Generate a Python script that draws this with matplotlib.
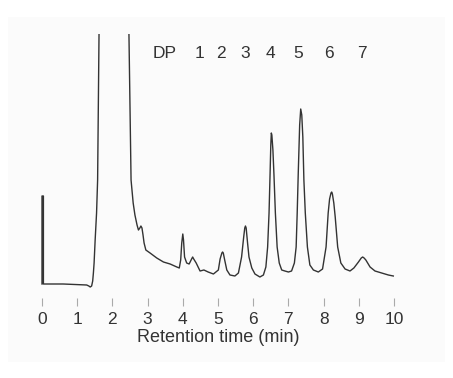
# HPLC chromatogram of oligosaccharides (DP 1-7)

import matplotlib.pyplot as plt
from matplotlib.patches import Rectangle

plt.rcParams['font.family'] = ['Liberation Sans', 'DejaVu Sans']

# retention time (min) and detector signal (arbitrary units, baseline ~0)
time = [0.00, 0.00, 0.04, 0.04, 0.60, 1.27, 1.33, 1.37, 1.41, 1.44, 1.46, 1.48, 1.51, 1.55, 1.58,
        1.62, 2.05,
        2.47, 2.53, 2.59, 2.64, 2.70, 2.74, 2.78, 2.81, 2.84, 2.87, 2.90, 2.95, 3.07, 3.26, 3.45,
        3.64, 3.83, 3.90, 3.94, 3.97, 4.00, 4.02, 4.05, 4.11, 4.18, 4.25, 4.28, 4.31, 4.38, 4.49,
        4.60, 4.72, 4.87, 5.01, 5.06, 5.11, 5.13, 5.15, 5.19, 5.25, 5.34, 5.48, 5.58, 5.67, 5.73,
        5.76, 5.78, 5.80, 5.84, 5.88, 5.96, 6.05, 6.19, 6.29, 6.36, 6.41, 6.45, 6.48, 6.50, 6.515,
        6.53, 6.56, 6.59, 6.63, 6.68, 6.74, 6.81, 6.90, 7.00, 7.09, 7.17, 7.22, 7.25, 7.28, 7.32,
        7.35, 7.38, 7.41, 7.44, 7.48, 7.54, 7.61, 7.71, 7.85, 7.97, 8.07, 8.13, 8.17, 8.21, 8.23,
        8.25, 8.29, 8.33, 8.40, 8.49, 8.61, 8.75, 8.86, 8.99, 9.07, 9.11, 9.15, 9.20, 9.32, 9.46,
        9.65, 9.84, 9.98]
signal = [1, 89, 89, 1, 1, 0, -1, -2, -1, 4, 12, 22, 45, 72, 105,
          251, 900,
          251, 105, 82, 70, 60, 55, 57, 59, 57, 50, 42, 35, 32, 27, 23,
          21, 18, 17, 25, 42, 51, 45, 28, 22, 21, 26, 28, 26, 22, 14,
          15, 13, 11, 15, 26, 32, 33, 32, 25, 15, 10, 9, 12, 28, 48,
          57, 59, 57, 42, 28, 17, 11, 8, 10, 18, 38, 72, 112, 140, 152,
          150, 135, 110, 72, 38, 22, 15, 14, 13, 14, 22, 38, 72, 112, 160,
          176, 170, 148, 105, 72, 38, 20, 15, 13, 16, 38, 72, 86, 92, 93,
          91, 82, 68, 38, 22, 16, 14, 17, 23, 27, 28, 27, 25, 18, 14,
          12, 10, 9]

dp_labels = ['DP', '1', '2', '3', '4', '5', '6', '7']
dp_pos = [3.49, 4.47, 5.08, 5.77, 6.48, 7.28, 8.16, 9.08]
ticks = list(range(0, 11))

fig = plt.figure(figsize=(4.53, 3.78), dpi=100)
fig.patches.append(Rectangle((8 / 453, 16 / 378), 437 / 453, 345 / 378,
                             transform=fig.transFigure, facecolor='#fbfbfb',
                             edgecolor='none', zorder=-1))

ax = fig.add_axes([24.4 / 453, 72 / 378, 387.2 / 453, 272 / 378])
ax.patch.set_alpha(0)
ax.plot(time, signal, color='#333333', linewidth=1.0)

ax.set_xlim(-0.5, 10.5)
ax.set_ylim(-21, 251)

for s in ax.spines.values():
    s.set_visible(False)
ax.set_yticks([])
ax.set_xticks(ticks)
ax.tick_params(axis='x', direction='in', length=6, width=0.8, color='#aaaaaa',
               pad=4, labelsize=12.5, labelcolor='#333333')
ax.set_xlabel('Retention time (min)', fontsize=13, color='#333333', labelpad=2)

for lab, x in zip(dp_labels, dp_pos):
    ax.text(x, 232, lab, ha='center', va='center', fontsize=12.5, color='#333333')

fig.savefig('out.png', dpi=100)
